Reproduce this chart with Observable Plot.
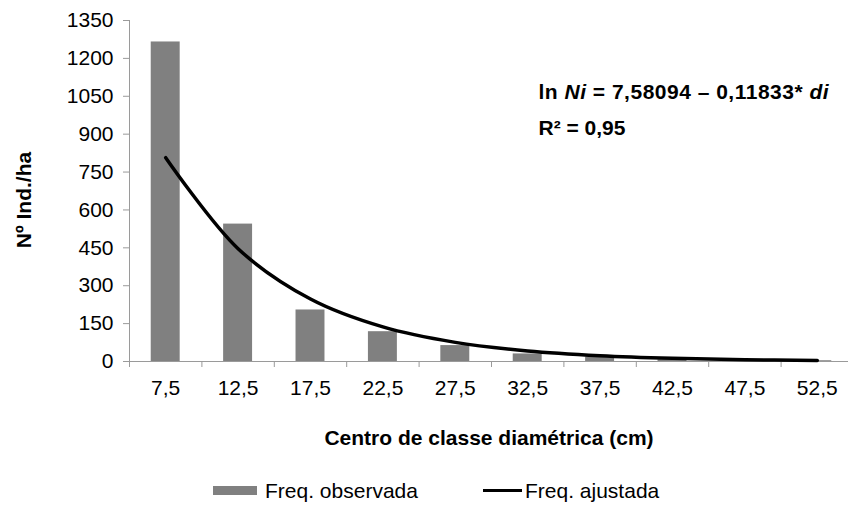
<!DOCTYPE html>
<html>
<head>
<meta charset="utf-8">
<script src="https://cdn.jsdelivr.net/npm/d3@7"></script>
<script src="https://cdn.jsdelivr.net/npm/@observablehq/plot@0.6"></script>
<style>
  body { margin: 0; background: #fff; font-family: "Liberation Sans", Arial, sans-serif; }
  #legend { position: relative; width: 848px; height: 45px; font-size: 21px; color: #000; }
  #legend .sw, #legend .lab { position: absolute; }
  #legend .lab { line-height: 21px; white-space: nowrap; }
</style>
</head>
<body>
<div id="chart"></div>
<div id="legend"></div>
<script>
// Diameter class centres (cm) and individuals per hectare
const classes = [7.5, 12.5, 17.5, 22.5, 27.5, 32.5, 37.5, 42.5, 47.5, 52.5];
const observed = [1265, 544, 204, 118, 63, 30, 18, 7, 4, 3];
// Fitted frequencies: ln Ni = 7,58094 – 0,11833·di evaluated at each class centre
const fitted = [807.1, 446.7, 247.2, 136.8, 75.7, 41.9, 23.2, 12.8, 7.1, 3.9];
const yTicks = [0, 150, 300, 450, 600, 750, 900, 1050, 1200, 1350];
const classEdges = [5, 10, 15, 20, 25, 30, 35, 40, 45, 50];

const xLabel = "Centro de classe diamétrica (cm)";
const yLabel = "Nº Ind./ha";
const eqParts = [["ln ", false], ["Ni", true], [" = 7,58094 – 0,11833* ", false], ["di", true]];
const equation = eqParts.map(p => p[0]).join("");
const r2Text = "R² = 0,95";
const legendLabels = ["Freq. observada", "Freq. ajustada"];

const barColor = "#808080";
const axisColor = "#9a9a9a";
const halfBar = 1; // half bar width, in cm of the x scale

const rows = classes.map((d, i) => ({d, observed: observed[i], fitted: fitted[i]}));
const comma = v => String(v).replace(".", ",");

const chart = Plot.plot({
  width: 848,
  height: 460,
  marginLeft: 129,
  marginRight: 0,
  marginTop: 20,
  marginBottom: 99,
  style: {fontFamily: '"Liberation Sans", Arial, sans-serif', fontSize: "21px", color: "#000", background: "#fff"},
  x: {domain: [5, 55], range: [129, 853]},
  y: {domain: [0, 1350]},
  marks: [
    Plot.rectY(rows, {x1: d => d.d - halfBar, x2: d => d.d + halfBar, y: "observed", fill: barColor}),
    Plot.ruleX([5], {y1: 0, y2: 1350, stroke: axisColor}),
    Plot.ruleY([0], {stroke: axisColor}),
    Plot.axisY({ticks: yTicks, tickSize: 6, tickPadding: 10, tickFormat: d => String(d), label: null, stroke: axisColor}),
    Plot.axisX({ticks: classEdges, tickSize: 6, tickFormat: () => "", label: null, stroke: axisColor}),
    Plot.axisX({ticks: classes, tickSize: 0, tickPadding: 19, tickFormat: comma, label: null}),
    Plot.line(rows, {x: "d", y: "fitted", curve: "catmull-rom", stroke: "#000", strokeWidth: 3.5}),
    Plot.text([xLabel], {frameAnchor: "bottom", dy: 77, textAnchor: "middle", lineAnchor: "middle", fontWeight: "bold"}),
    Plot.text([yLabel], {frameAnchor: "left", dx: -105, dy: 9, rotate: -90, textAnchor: "middle", lineAnchor: "middle", fontWeight: "bold"}),
    Plot.text([equation], {frameAnchor: "top-left", dx: 409, dy: 72, textAnchor: "start", lineAnchor: "middle", fontWeight: "bold", fontSize: 21}),
    Plot.text([r2Text], {frameAnchor: "top-left", dx: 409, dy: 108, textAnchor: "start", lineAnchor: "middle", fontWeight: "bold", fontSize: 21})
  ]
});

// Italicise the variables of the regression equation
chart.querySelectorAll("text").forEach(t => {
  if (t.textContent === equation) {
    t.textContent = "";
    for (const [s, italic] of eqParts) {
      const ts = document.createElementNS("http://www.w3.org/2000/svg", "tspan");
      ts.textContent = s;
      if (italic) ts.setAttribute("font-style", "italic");
      t.appendChild(ts);
    }
    t.style.whiteSpace = "pre";
    t.style.letterSpacing = "0.5px";
  }
});

document.getElementById("chart").appendChild(chart);

// Legend below the chart
const legend = document.getElementById("legend");
const items = [
  {label: legendLabels[0], sw: {left: 213, top: 26, width: 44, height: 9, background: barColor}, textLeft: 265},
  {label: legendLabels[1], sw: {left: 483, top: 28.5, width: 39, height: 3.5, background: "#000"}, textLeft: 525}
];
for (const it of items) {
  const sw = document.createElement("div");
  sw.className = "sw";
  Object.assign(sw.style, {
    left: it.sw.left + "px", top: it.sw.top + "px",
    width: it.sw.width + "px", height: it.sw.height + "px",
    background: it.sw.background
  });
  legend.appendChild(sw);
  const lab = document.createElement("span");
  lab.className = "lab";
  lab.textContent = it.label;
  lab.style.left = it.textLeft + "px";
  lab.style.top = "20px";
  legend.appendChild(lab);
}
</script>
</body>
</html>
